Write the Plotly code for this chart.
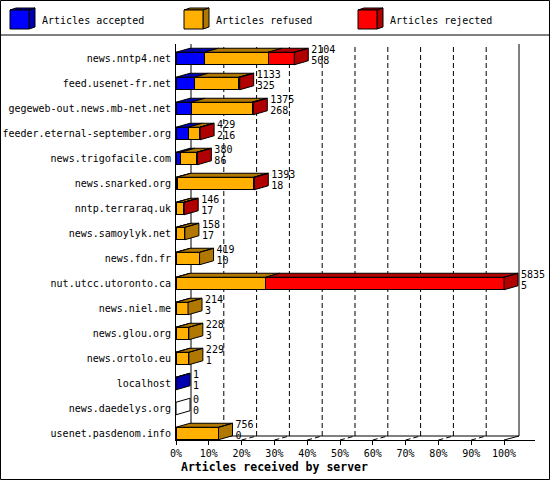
import plotly.graph_objects as go

servers = [
    "news.nntp4.net", "feed.usenet-fr.net", "gegeweb-out.news.mb-net.net",
    "feeder.eternal-september.org", "news.trigofacile.com", "news.snarked.org",
    "nntp.terraraq.uk", "news.samoylyk.net", "news.fdn.fr", "nut.utcc.utoronto.ca",
    "news.niel.me", "news.glou.org", "news.ortolo.eu", "localhost",
    "news.daedelys.org", "usenet.pasdenom.info",
]
offered = [2104, 1133, 1375, 429, 380, 1393, 146, 158, 419, 5835, 214, 228, 229, 1, 0, 756]
accepted = [508, 325, 268, 216, 86, 18, 17, 17, 10, 5, 3, 3, 1, 1, 0, 0]
refused = [1130, 790, 1086, 205, 284, 1365, 125, 141, 409, 1589, 211, 225, 228, 0, 0, 756]
rejected = [466, 18, 21, 8, 10, 10, 4, 0, 0, 4241, 0, 0, 0, 0, 0, 0]

series_names = ["Articles accepted", "Articles refused", "Articles rejected"]
front_colors = ["#0000ff", "#ffb000", "#ff0000"]
dark_colors = ["#0000b0", "#b07800", "#b00000"]
x_ticks = [0, 10, 20, 30, 40, 50, 60, 70, 80, 90, 100]

FONT = "DejaVu Sans Mono"
W, H = 550, 480
L, R, T, B = 176, 535, 44, 440          # plot area in pixels
PX_PCT = 3.28                           # pixels per percent
X_MAX = (R - L) / PX_PCT
Y_MIN, Y_MAX = -0.26, 15.58
BDX, BDY = 14 / PX_PCT, 4 / 25          # bar depth
WDX, WDY = 15 / PX_PCT, 4 / 25          # wall depth
HALF = 0.25
LAB_GAP = 3 / PX_PCT


def px_x(p):
    return (p - L) / (R - L)


def px_y(p):
    return (B - p) / (B - T)


scale = max(offered)


def pct(v):
    return v / scale * 100


n = len(servers)
pos = [n - 1 - i for i in range(n)]

fig = go.Figure()

# front faces
for k, vals in enumerate([accepted, refused, rejected]):
    fig.add_trace(go.Bar(
        y=pos, x=[pct(v) if v > 0 else None for v in vals],
        orientation="h", width=0.5, name=series_names[k],
        marker=dict(color=front_colors[k], line=dict(color="black", width=1)),
        showlegend=False, hoverinfo="skip",
    ))

# top and side faces
faces = {c: ([], []) for c in dark_colors + ["#ffffff"]}
for i in range(n):
    top, bot = pos[i] + HALF, pos[i] - HALF
    start = 0
    last = None
    for k, v in enumerate([accepted[i], refused[i], rejected[i]]):
        if v > 0:
            x0, x1 = pct(start), pct(start + v)
            fx, fy = faces[dark_colors[k]]
            fx += [x0, x0 + BDX, x1 + BDX, x1, x0, None]
            fy += [top, top + BDY, top + BDY, top, top, None]
            last = k
        start += v
    end = pct(start)
    col = dark_colors[last] if last is not None else "#ffffff"
    fx, fy = faces[col]
    fx += [end, end + BDX, end + BDX, end, end, None]
    fy += [top, top + BDY, bot + BDY, bot, top, None]

for col, (fx, fy) in faces.items():
    fig.add_trace(go.Scatter(
        x=fx, y=fy, mode="lines", fill="toself", fillcolor=col,
        line=dict(color="black", width=1), showlegend=False, hoverinfo="skip",
    ))

# value labels
lab_x = [pct(o) + BDX + LAB_GAP for o in offered]
fig.add_trace(go.Scatter(
    x=lab_x, y=[p + 0.34 for p in pos], mode="text", text=[str(o) for o in offered],
    textposition="middle right", textfont=dict(family=FONT, size=10, color="black"),
    cliponaxis=False, showlegend=False, hoverinfo="skip",
))
fig.add_trace(go.Scatter(
    x=lab_x, y=[p - 0.1 for p in pos], mode="text", text=[str(a) for a in accepted],
    textposition="middle right", textfont=dict(family=FONT, size=10, color="black"),
    cliponaxis=False, showlegend=False, hoverinfo="skip",
))

shapes = []
floor_y = Y_MIN + WDY
line_k = dict(color="black", width=1)
dash_k = dict(color="black", width=1, dash="5px,3px")
for t in x_ticks[1:-1]:
    shapes.append(dict(type="line", xref="x", yref="y", x0=t + WDX, x1=t + WDX,
                       y0=floor_y, y1=Y_MAX, line=dash_k, layer="below"))
    shapes.append(dict(type="line", xref="x", yref="y", x0=t, x1=t + WDX,
                       y0=Y_MIN, y1=floor_y, line=dash_k, layer="below"))
for t in (0, 100):
    shapes.append(dict(type="line", xref="x", yref="y", x0=t + WDX, x1=t + WDX,
                       y0=floor_y, y1=Y_MAX, line=line_k, layer="below"))
    shapes.append(dict(type="line", xref="x", yref="y", x0=t, x1=t + WDX,
                       y0=Y_MIN, y1=floor_y, line=line_k, layer="below"))
shapes.append(dict(type="line", xref="x", yref="y", x0=WDX, x1=100 + WDX,
                   y0=floor_y, y1=floor_y, line=line_k, layer="below"))

# legend separator and outer frame
shapes.append(dict(type="line", xref="paper", yref="paper", x0=px_x(0), x1=px_x(W),
                   y0=px_y(35), y1=px_y(35), line=line_k))
shapes.append(dict(type="rect", xref="paper", yref="paper", x0=px_x(0.5), x1=px_x(W - 0.5),
                   y0=px_y(0.5), y1=px_y(H - 0.5), line=line_k))

annotations = []
# legend boxes
for k, bx in enumerate([10, 184, 358]):
    by = 10
    front = "M{},{} L{},{} L{},{} L{},{} Z".format(
        px_x(bx), px_y(by), px_x(bx + 19), px_y(by), px_x(bx + 19), px_y(by + 19),
        px_x(bx), px_y(by + 19))
    topf = "M{},{} L{},{} L{},{} L{},{} Z".format(
        px_x(bx), px_y(by), px_x(bx + 6), px_y(by - 2), px_x(bx + 25), px_y(by - 2),
        px_x(bx + 19), px_y(by))
    side = "M{},{} L{},{} L{},{} L{},{} Z".format(
        px_x(bx + 19), px_y(by), px_x(bx + 25), px_y(by - 2), px_x(bx + 25), px_y(by + 17),
        px_x(bx + 19), px_y(by + 19))
    shapes.append(dict(type="path", xref="paper", yref="paper", path=topf,
                       fillcolor=dark_colors[k], line=line_k))
    shapes.append(dict(type="path", xref="paper", yref="paper", path=side,
                       fillcolor=dark_colors[k], line=line_k))
    shapes.append(dict(type="path", xref="paper", yref="paper", path=front,
                       fillcolor=front_colors[k], line=line_k))
    annotations.append(dict(xref="paper", yref="paper", x=px_x(bx + 30), y=px_y(20),
                            xanchor="left", yanchor="middle", showarrow=False,
                            text=series_names[k],
                            font=dict(family=FONT, size=10, color="black")))

annotations.append(dict(xref="paper", yref="paper", x=px_x(179), y=px_y(467),
                        xanchor="left", yanchor="middle", showarrow=False,
                        text="<b>Articles received by server</b>",
                        font=dict(family=FONT, size=11.5, color="black")))

fig.update_layout(
    width=W, height=H,
    margin=dict(l=L, r=W - R, t=T, b=H - B, pad=0, autoexpand=False),
    paper_bgcolor="white", plot_bgcolor="white",
    barmode="stack", bargap=0.5,
    shapes=shapes, annotations=annotations,
    font=dict(family=FONT, size=10, color="black"),
)
fig.update_xaxes(
    range=[0, X_MAX], tickvals=x_ticks, ticktext=[f"{t}%" for t in x_ticks],
    ticks="outside", ticklen=4, tickcolor="black", showline=True, linecolor="black",
    linewidth=1, showgrid=False, zeroline=False, fixedrange=True, automargin=False,
    tickfont=dict(family=FONT, size=10, color="black"),
)
fig.update_yaxes(
    range=[Y_MIN, Y_MAX], tickvals=pos, ticktext=servers, ticks="",
    showline=True, linecolor="black", linewidth=1, showgrid=False, zeroline=False,
    fixedrange=True, automargin=False, ticklabelstandoff=2,
    tickfont=dict(family=FONT, size=10, color="black"),
)

fig.write_html("out.html", config={"displayModeBar": False},
               post_script="document.body.style.margin='0';")
